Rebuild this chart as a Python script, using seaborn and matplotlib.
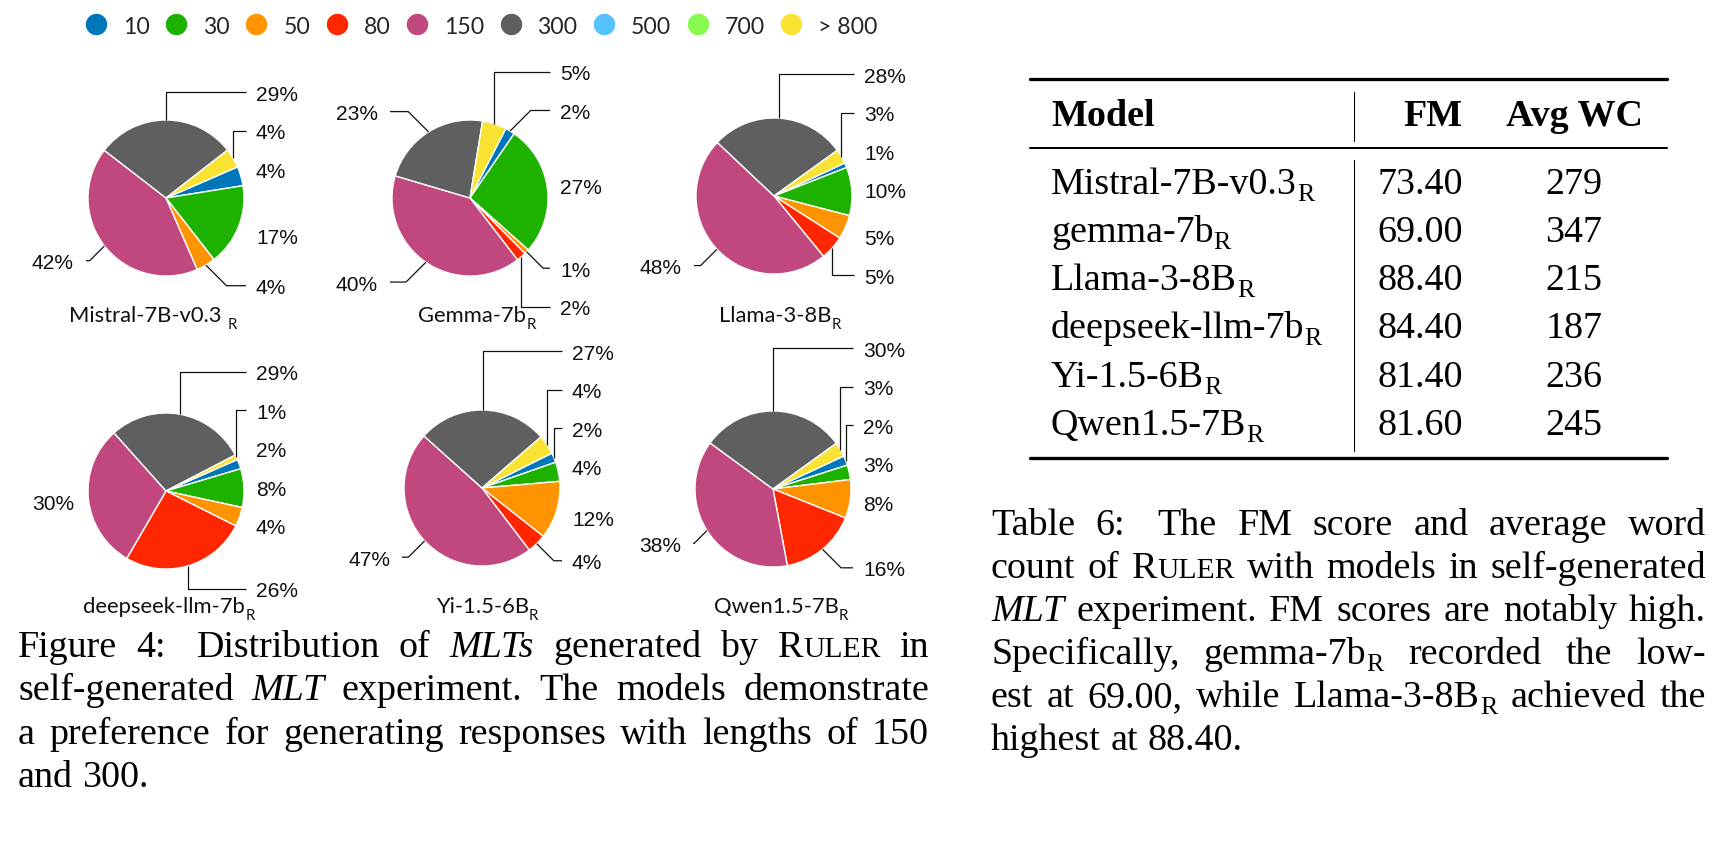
import numpy as np
import matplotlib
matplotlib.use("Agg")
import matplotlib.pyplot as plt
import seaborn as sns
from matplotlib.lines import Line2D

# ---------------- data ----------------
length_bins = ["10", "30", "50", "80", "150", "300", "500", "700", "> 800"]
bin_colors = ["#0076BA", "#1DB100", "#FF9300", "#FF2600", "#C1487F",
              "#5F5F5F", "#56C1FF", "#88F94E", "#FAE232"]

pie_models = ["Mistral-7B-v0.3 ", "Gemma-7b", "Llama-3-8B",
              "deepseek-llm-7b", "Yi-1.5-6B", "Qwen1.5-7B"]
mistral_pct = [4, 17, 4, 0, 42, 29, 0, 0, 4]
gemma_pct = [2, 27, 1, 2, 40, 23, 0, 0, 5]
llama_pct = [1, 10, 5, 5, 48, 28, 0, 0, 3]
deepseek_pct = [2, 8, 4, 26, 30, 29, 0, 0, 1]
yi_pct = [2, 4, 12, 4, 47, 27, 0, 0, 4]
qwen_pct = [2, 3, 8, 16, 38, 30, 0, 0, 3]

table_models = ["Mistral-7B-v0.3", "gemma-7b", "Llama-3-8B",
                "deepseek-llm-7b", "Yi-1.5-6B", "Qwen1.5-7B"]
fm_scores = [73.40, 69.00, 88.40, 84.40, 81.40, 81.60]
avg_wc = [279, 347, 215, 187, 236, 245]

# ---------------- setup ----------------
W, H = 1720, 854
PT = 0.72
sns.set_theme(style="white")
plt.rcParams["font.family"] = ["Liberation Sans", "DejaVu Sans"]
palette = sns.color_palette(bin_colors)

fig = plt.figure(figsize=(W / 100, H / 100), dpi=100)
fig.patch.set_facecolor("white")
renderer = fig.canvas.get_renderer()


def txt(x, y, s, **kw):
    return fig.text(x / W, 1 - y / H, s, **kw)


def width(s, **kw):
    t = fig.text(0, 0, s, **kw)
    w = t.get_window_extent(renderer).width
    t.remove()
    return w


def word_width(word):
    return sum(width(s, **kw) for s, kw, dy in word)


def draw_word(x, y, word):
    for s, kw, dy in word:
        txt(x, y - dy, s, va="baseline", ha="left", **kw)
        x += width(s, **kw)
    return x


def draw_line(x0, x1, y, words, justify=True, weights=None, space=9.5):
    ws = [word_width(w) for w in words]
    n = len(words) - 1
    weights = weights or [1] * n
    unit = (x1 - x0 - sum(ws)) / sum(weights) if (justify and n > 0) else space
    x = x0
    for i, w in enumerate(words):
        draw_word(x, y, w)
        x += ws[i]
        if i < n:
            x += unit * weights[i]


# ---------------- legend ----------------
LFS = 23
handles = [Line2D([], [], ls="", marker="o", ms=20 * PT, mfc=c, mec=c) for c in palette]
fig.legend(handles, length_bins, ncol=9, loc="center left",
           bbox_to_anchor=(86 / W, 1 - 27 / H), frameon=False,
           prop={"family": "Lato", "size": LFS * PT},
           handlelength=20 / LFS, handletextpad=17 / LFS, columnspacing=16.5 / LFS,
           borderpad=0, borderaxespad=0)

# ---------------- pies ----------------
RADIUS = 78
LABEL_R = 102
GAP = 38.5
COL_R, COL_L, LINE_END = 90, 92, 80
AXW, AXH = 320, 300
centers = [(166, 199), (470, 199), (774, 197), (166, 492), (482, 489), (773, 490)]
start_cw = [66.5, 27.3, 65.0, 66.2, 63.5, 65.0]
title_dx = [-13, 7, 6, 3, 5, 8]
title_base = [322, 322, 322, 613, 613, 613]
pie_values = [mistral_pct, gemma_pct, llama_pct, deepseek_pct, yi_pct, qwen_pct]


def place(nat, gap):
    nat = np.asarray(nat, float)
    n = len(nat)
    if n == 0:
        return nat
    order = np.argsort(nat)
    t = nat[order]
    a = int(np.argmin(np.abs(t)))
    out = t.copy()
    for i in range(a - 1, -1, -1):
        out[i] = min(t[i], out[i + 1] - gap)
    for i in range(a + 1, n):
        out[i] = max(t[i], out[i - 1] + gap)
    res = np.empty(n)
    res[order] = out
    return res


for k, vals in enumerate(pie_values):
    cx, cy = centers[k]
    ax = fig.add_axes([(cx - AXW / 2) / W, 1 - (cy + AXH / 2) / H, AXW / W, AXH / H])
    keep = [i for i, v in enumerate(vals) if v > 0]
    wedges, _ = ax.pie([vals[i] for i in keep], colors=[palette[i] for i in keep],
                       radius=RADIUS, startangle=90 - start_cw[k], counterclock=False,
                       wedgeprops=dict(edgecolor="white", linewidth=1.0))
    ax.set_xlim(-AXW / 2, AXW / 2)
    ax.set_ylim(-AXH / 2, AXH / 2)
    ax.set_aspect("equal")
    ax.axis("off")

    info = []
    for w, i in zip(wedges, keep):
        m = np.deg2rad(0.5 * (w.theta1 + w.theta2))
        info.append(dict(v=vals[i], ex=RADIUS * np.cos(m), ey=-RADIUS * np.sin(m),
                         side=1 if np.cos(m) > -0.1 else -1,
                         nat=-LABEL_R * np.sin(m)))
    for side in (1, -1):
        grp = [d for d in info if d["side"] == side]
        ys = place([d["nat"] for d in grp], GAP)
        for d, ly in zip(grp, ys):
            ex, ey = d["ex"], d["ey"]
            if side == 1:
                ax.text(COL_R, -(ly + 7.5), f"{d['v']}%", ha="left", va="baseline",
                        family="Liberation Sans", size=21 * PT, color="#111111")
            else:
                ax.text(-COL_L, -(ly + 7.5), f"{d['v']}%", ha="right", va="baseline",
                        family="Liberation Sans", size=21 * PT, color="#111111")
            dy = ly - ey
            dx = LINE_END - side * ex
            if abs(dy) > 18 or dx > 12:
                if abs(dy) >= 21:
                    bx = ex
                else:
                    bx = ex + side * abs(dy)
                    if side * bx > LINE_END:
                        bx = side * LINE_END
                xs = [ex, bx, side * LINE_END]
                yv = [-ey, -ly, -ly]
                ax.plot(xs, yv, color="#111111", lw=0.9, solid_capstyle="butt")

    # title under pie
    main_kw = dict(family="Lato", size=22 * PT, color="#111111")
    sub_kw = dict(family="Lato", size=15 * PT, color="#111111")
    word = [(pie_models[k], main_kw, 0), ("R", sub_kw, -7)]
    tw = word_width(word)
    draw_word(cx + title_dx[k] - tw / 2, title_base[k], word)

# ---------------- table ----------------
FS = 38
serif = "Liberation Serif"
base = dict(family=serif, size=FS * PT, color="black")
bold = dict(base, weight="bold")
subk = dict(base, size=FS * 0.68 * PT)

X0, X1 = 1030, 1667
for y, lw in ((80, 3.3), (149, 2.0), (459, 3.3)):
    fig.add_artist(Line2D([X0 / W, X1 / W], [1 - y / H, 1 - y / H],
                          transform=fig.transFigure, color="black", lw=lw * PT))
for y0, y1 in ((93, 142), (161, 452)):
    fig.add_artist(Line2D([1354 / W, 1354 / W], [1 - y0 / H, 1 - y1 / H],
                          transform=fig.transFigure, color="black", lw=1.1 * PT))

txt(1051, 126, "Model", va="baseline", ha="left", **bold)
txt(1462, 126, "FM", va="baseline", ha="right", **bold)
txt(1575, 126, "Avg WC", va="baseline", ha="center", **bold)
row_base = [194, 242, 290, 338, 387, 435]
for yb, name, fm, wc in zip(row_base, table_models, fm_scores, avg_wc):
    draw_word(1051, yb, [(name, base, 0), ("R", subk, -7)])
    txt(1463, yb, f"{fm:.2f}", va="baseline", ha="right", **base)
    txt(1574, yb, f"{wc}", va="baseline", ha="center", **base)

# ---------------- captions ----------------
def Rw(s):
    return [(s, base, 0)]


def Iw(s):
    return [(s, dict(base, style="italic"), 0)]


def SCw(s, tail=""):
    w = [(s[0], base, 0), (s[1:], dict(base, size=FS * 0.78 * PT), 0)]
    if tail:
        w.append((tail, base, 0))
    return w


def plain(sentence):
    return [Rw(t) for t in sentence.split()]


# Figure caption (left column)
FX0, FX1 = 18, 929
fig_lines = [
    ([Rw("Figure"), Rw("4:"), Rw("Distribution"), Rw("of"), Iw("MLTs"),
      Rw("generated"), Rw("by"), SCw("RULER"), Rw("in")], True, [1, 1.6, 1, 1, 1, 1, 1, 1]),
    ([Rw("self-generated"), Iw("MLT")] + plain("experiment. The models demonstrate"), True, None),
    (plain("a preference for generating responses with lengths of 150"), True, None),
    (plain("and 300."), False, None),
]
fy = [657, 700, 744, 787]
for (words, just, wts), y in zip(fig_lines, fy):
    draw_line(FX0, FX1, y, words, justify=just, weights=wts)

# Table caption (right column)
TX0, TX1 = 991, 1706
g7 = [("gemma-7b", base, 0), ("R", subk, -7)]
l3 = [("Llama-3-8B", base, 0), ("R", subk, -7)]
tab_lines = [
    (plain("Table 6: The FM score and average word"), True, [1, 1.6, 1, 1, 1, 1, 1]),
    (plain("count of") + [SCw("RULER")] + plain("with models in self-generated"), True, None),
    ([Iw("MLT")] + plain("experiment. FM scores are notably high."), True, None),
    (plain("Specifically,") + [g7] + plain("recorded the low-"), True, None),
    (plain("est at 69.00, while") + [l3] + plain("achieved the"), True, None),
    (plain("highest at 88.40."), False, None),
]
ty = [535, 578, 621, 664, 707, 750]
for (words, just, wts), y in zip(tab_lines, ty):
    draw_line(TX0, TX1, y, words, justify=just, weights=wts)

fig.savefig("out.png", dpi=100, facecolor="white")
